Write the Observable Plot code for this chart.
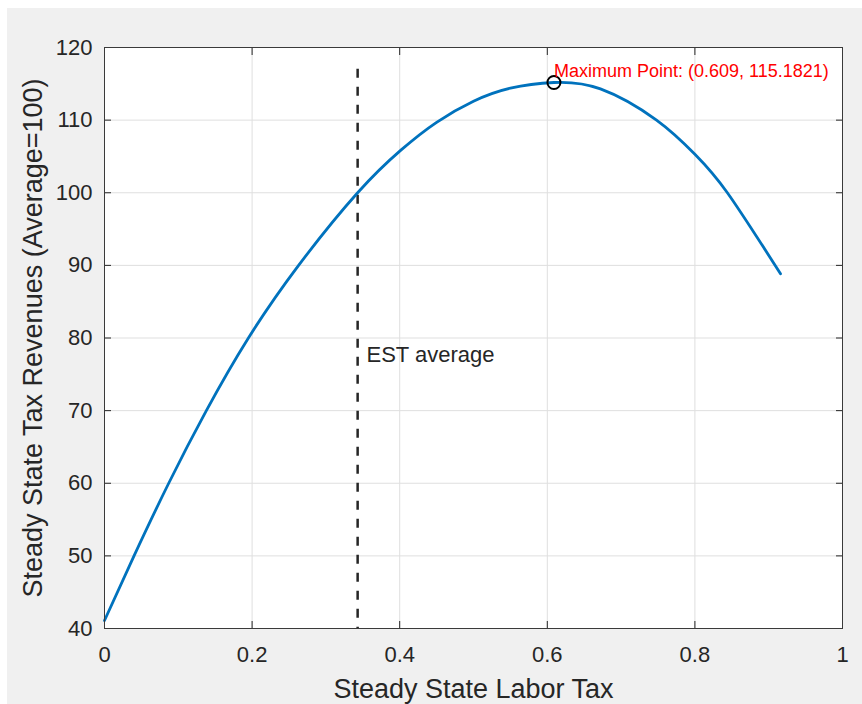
<!DOCTYPE html>
<html>
<head>
<meta charset="utf-8">
<script src="https://cdn.jsdelivr.net/npm/d3@7"></script>
<script src="https://cdn.jsdelivr.net/npm/@observablehq/plot@0.6"></script>
<style>
  html, body { margin: 0; padding: 0; background: #ffffff; }
  #fig { position: absolute; left: 7px; top: 8px; width: 855px; height: 696px; background: #f0f0f0; }
</style>
</head>
<body>
<div id="fig"></div>
<script>
// Steady state labor tax rate (x) and tax revenues, average = 100 (y)
const laborTax = [0, 0.04, 0.087, 0.138, 0.195, 0.263, 0.343, 0.402, 0.45, 0.5, 0.55, 0.609, 0.672, 0.748, 0.8, 0.844, 0.916];
const revenues = [41.1, 50, 60, 70, 80, 90, 100, 105.9, 109.7, 112.6, 114.4, 115.1821, 114.3, 110, 105.3, 100, 88.84];

const maxPoint = [{x: 0.609, y: 115.1821}];
const maxLabel = ["Maximum Point: (0.609, 115.1821)"];
const estAverage = [0.343];
const estRange = {y1: 117, y2: 40};
const estLabel = ["EST average"];

const xTicks = [0, 0.2, 0.4, 0.6, 0.8, 1];
const yTicks = [40, 50, 60, 70, 80, 90, 100, 110, 120];
const xLabel = "Steady State Labor Tax";
const yLabel = "Steady State Tax Revenues (Average=100)";

const curve = laborTax.map((x, i) => ({x, y: revenues[i]}));
const ink = "#262626";
const font = "'Liberation Sans', Arial, Helvetica, sans-serif";

const chart = Plot.plot({
  width: 855,
  height: 696,
  marginLeft: 97,
  marginTop: 39,
  marginRight: 20,
  marginBottom: 76,
  style: {background: "transparent", fontFamily: font, color: ink, overflow: "visible"},
  x: {domain: [0, 1]},
  y: {domain: [40, 120]},
  marks: [
    Plot.frame({fill: "white", stroke: null}),
    Plot.gridX(xTicks, {stroke: "#dfdfdf", strokeOpacity: 1}),
    Plot.gridY(yTicks, {stroke: "#dfdfdf", strokeOpacity: 1}),
    Plot.ruleX(estAverage, {x: d => d, y1: estRange.y1, y2: estRange.y2, stroke: ink, strokeWidth: 2.5, strokeDasharray: "9,9"}),
    Plot.line(curve, {x: "x", y: "y", stroke: "#0072BD", strokeWidth: 2.8, curve: "natural"}),
    Plot.dot(maxPoint, {x: "x", y: "y", r: 6.5, stroke: "black", strokeWidth: 2, fill: "none"}),
    Plot.text(maxLabel, {x: () => maxPoint[0].x, y: () => maxPoint[0].y, text: d => d, textAnchor: "start", lineAnchor: "bottom", dy: -5, fill: "#ff0000", fontSize: 18}),
    Plot.text(estLabel, {x: () => 0.355, y: () => 77.7, text: d => d, textAnchor: "start", lineAnchor: "middle", fill: ink, fontSize: 22}),
    // tick labels
    Plot.axisX(xTicks, {anchor: "bottom", tickSize: 0, tickPadding: 18, fontSize: 22, fill: ink, label: null, tickFormat: d => String(d)}),
    Plot.axisY(yTicks, {anchor: "left", tickSize: 0, tickPadding: 12, fontSize: 22, fill: ink, label: null, tickFormat: d => String(d)}),
    // inward ticks on all four sides
    Plot.axisX(xTicks, {anchor: "bottom", tickSize: -7, stroke: ink, tickFormat: () => "", label: null}),
    Plot.axisX(xTicks, {anchor: "top", tickSize: -7, stroke: ink, tickFormat: () => "", label: null}),
    Plot.axisY(yTicks, {anchor: "left", tickSize: -7, stroke: ink, tickFormat: () => "", label: null}),
    Plot.axisY(yTicks, {anchor: "right", tickSize: -7, stroke: ink, tickFormat: () => "", label: null}),
    // axis titles
    Plot.text([xLabel], {frameAnchor: "bottom", text: d => d, dy: 61, textAnchor: "middle", lineAnchor: "middle", fontSize: 27, fill: ink}),
    Plot.text([yLabel], {frameAnchor: "left", text: d => d, rotate: -90, dx: -71, textAnchor: "middle", lineAnchor: "middle", fontSize: 27, fill: ink}),
    Plot.frame({stroke: "#3a3a3a", strokeWidth: 1})
  ]
});
document.getElementById("fig").appendChild(chart);
</script>
</body>
</html>
